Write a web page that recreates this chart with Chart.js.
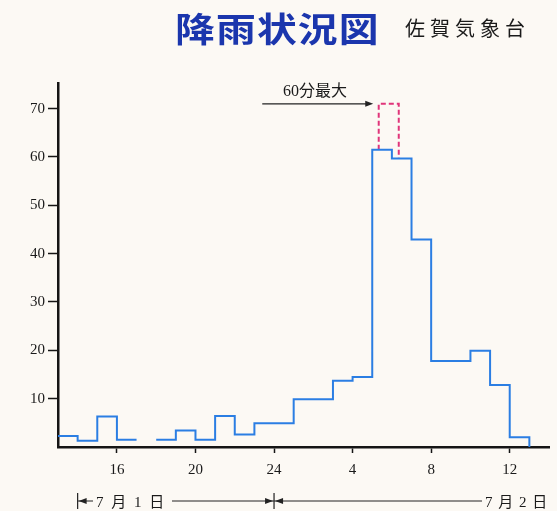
<!DOCTYPE html>
<html>
<head>
<meta charset="utf-8">
<script src="https://cdn.jsdelivr.net/npm/chart.js@4.4.1/dist/chart.umd.min.js"></script>
<style>
  body { margin: 0; background: #fcf9f4; }
  #wrap { position: relative; width: 557px; height: 511px; overflow: hidden; }
  #rainChart { position: absolute; left: 0; top: 0; }
  .txt { position: absolute; white-space: nowrap; color: #1a1a1a; line-height: 1; }
  #title { left: 175px; top: 3px; font: bold 34px "Noto Sans CJK JP", sans-serif; color: #1b36ad; letter-spacing: 1px; transform: scaleX(1.17); transform-origin: left top; }
  #source { left: 405px; top: 13px; font: 20px "Noto Sans CJK JP", sans-serif; letter-spacing: 5px; }
  #maxNote { left: 283px; top: 77px; font: 16px "Liberation Serif", "Noto Sans CJK JP", serif; }
  .day { top: 490px; font: 15px "Liberation Serif", "Noto Sans CJK JP", serif; }
  #day1 { left: 96px; letter-spacing: 2px; }
  #day2 { left: 485px; letter-spacing: 1px; }
</style>
</head>
<body>
<div id="wrap">
  <canvas id="rainChart" width="557" height="511"></canvas>
  <div class="txt" id="title">降雨状況図</div>
  <div class="txt" id="source">佐賀気象台</div>
  <div class="txt" id="maxNote">60分最大</div>
  <div class="txt day" id="day1">7 月 1 日</div>
  <div class="txt day" id="day2">7 月 2 日</div>
</div>
<script>
// hourly rainfall (mm), each value covers [hour, hour + 1); hours past 24 are 7/2
const hourStart = [13, 14, 15, 16, 17, 18, 19, 20, 21, 22, 23, 24,
                   25, 26, 27, 28, 29, 30, 31, 32, 33, 34, 35, 36];
const rainfall = [2.3, 1.3, 6.3, 1.5, null, 1.5, 3.4, 1.5, 6.4, 2.6, 4.9, 4.9,
                  9.9, 9.9, 13.7, 14.5, 61.5, 59.7, 42.9, 17.8, 17.8, 19.9, 12.8, 2.0];

// 60 minute maximum window
const maxWindow = [29.33, 30.35];
const maxValue = 71;
const arrowFrom = 23.4;
const arrowTo = 29.05;

const xTickValues = [16, 20, 24, 28, 32, 36];
const xTickLabels = ['16', '20', '24', '4', '8', '12'];
const yTickValues = [10, 20, 30, 40, 50, 60, 70];

// day ranges shown under the axis
const dayMarks = [14, 24];

function buildSteps(starts, values) {
    const pts = [];
    for (let i = 0; i < values.length; i++) {
        if (values[i] === null) continue;
        pts.push({ x: starts[i], y: values[i] });
        pts.push({ x: starts[i] + 1, y: values[i] });
        if (i + 1 < values.length && values[i + 1] === null) {
            pts.push({ x: starts[i] + 1.5, y: null });
        }
    }
    // drop back to the axis at the end
    pts.push({ x: starts[starts.length - 1] + 1, y: 0 });
    return pts;
}

function valueAt(h) {
    const i = hourStart.indexOf(Math.floor(h));
    return rainfall[i];
}

const maxRect = [
    { x: maxWindow[0], y: valueAt(maxWindow[0]) },
    { x: maxWindow[0], y: maxValue },
    { x: maxWindow[1], y: maxValue },
    { x: maxWindow[1], y: valueAt(maxWindow[1]) }
];

const decor = {
    id: 'decor',
    afterDatasetsDraw(chart) {
        const { ctx, scales: { x, y } } = chart;
        ctx.save();
        ctx.fillStyle = '#222';
        ctx.strokeStyle = '#222';
        ctx.lineWidth = 1.2;

        // arrow head on the 60 min note
        const ax = x.getPixelForValue(arrowTo), ay = y.getPixelForValue(maxValue);
        ctx.beginPath();
        ctx.moveTo(ax, ay);
        ctx.lineTo(ax - 8, ay - 3);
        ctx.lineTo(ax - 8, ay + 3);
        ctx.closePath();
        ctx.fill();

        // date range row
        const ry = 501;
        const x1 = x.getPixelForValue(dayMarks[0]);
        const x2 = x.getPixelForValue(dayMarks[1]);
        const head = (px, dir) => {
            ctx.beginPath();
            ctx.moveTo(px, ry);
            ctx.lineTo(px + dir * 8, ry - 3);
            ctx.lineTo(px + dir * 8, ry + 3);
            ctx.closePath();
            ctx.fill();
        };
        ctx.beginPath();
        ctx.moveTo(x1, ry - 8); ctx.lineTo(x1, ry + 8);
        ctx.moveTo(x2, ry - 8); ctx.lineTo(x2, ry + 8);
        ctx.moveTo(x1, ry); ctx.lineTo(93, ry);
        ctx.moveTo(172, ry); ctx.lineTo(x2, ry);
        ctx.moveTo(x2, ry); ctx.lineTo(482, ry);
        ctx.stroke();
        head(x1 + 1, 1);
        head(x2 - 1, -1);
        head(x2 + 1, 1);
        ctx.restore();
    }
};

const axisColor = '#151515';
const tickFont = { family: '"Liberation Serif", "DejaVu Serif", serif', size: 15 };

new Chart(document.getElementById('rainChart'), {
    type: 'line',
    data: {
        datasets: [
            {
                data: buildSteps(hourStart, rainfall),
                borderColor: '#2b7ee3',
                borderWidth: 2,
                pointRadius: 0,
                spanGaps: false
            },
            {
                data: maxRect,
                borderColor: '#e0357a',
                borderWidth: 2,
                borderDash: [5, 3],
                pointRadius: 0
            },
            {
                data: [{ x: arrowFrom, y: maxValue }, { x: arrowTo - 0.3, y: maxValue }],
                borderColor: '#222',
                borderWidth: 1.2,
                pointRadius: 0
            }
        ]
    },
    options: {
        responsive: false,
        animation: false,
        layout: { padding: { left: 0, top: 83, right: 8, bottom: 34 } },
        plugins: { legend: { display: false }, tooltip: { enabled: false } },
        scales: {
            x: {
                type: 'linear',
                min: 13,
                max: 38,
                afterBuildTicks: scale => { scale.ticks = xTickValues.map(v => ({ value: v })); },
                afterFit: scale => { scale.height = 30; },
                grid: { drawOnChartArea: false, tickLength: 6, tickColor: axisColor, tickWidth: 1.5 },
                border: { color: axisColor, width: 2.5 },
                ticks: {
                    autoSkip: false,
                    maxRotation: 0,
                    padding: 8,
                    color: '#1a1a1a',
                    font: tickFont,
                    callback: v => xTickLabels[xTickValues.indexOf(v)]
                }
            },
            y: {
                min: 0,
                max: 75.3,
                afterBuildTicks: scale => { scale.ticks = yTickValues.map(v => ({ value: v })); },
                afterFit: scale => { scale.width = 58; },
                grid: { drawOnChartArea: false, tickLength: 10, tickColor: axisColor, tickWidth: 1.5 },
                border: { color: axisColor, width: 2.5 },
                ticks: { padding: 3, color: '#1a1a1a', font: tickFont }
            }
        }
    },
    plugins: [decor]
});
</script>
</body>
</html>
